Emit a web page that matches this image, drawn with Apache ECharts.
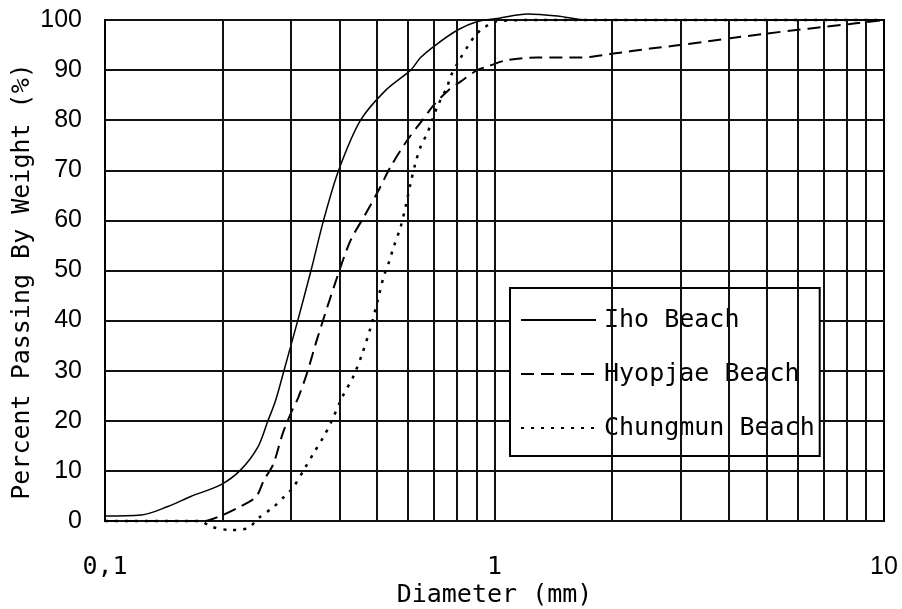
<!DOCTYPE html>
<html>
<head>
<meta charset="utf-8">
<script src="https://cdn.jsdelivr.net/npm/echarts@6/dist/echarts.min.js"></script>
<style>
html,body{margin:0;padding:0;background:#fff;}
#chart{width:902px;height:609px;}
</style>
</head>
<body>
<div id="chart"></div>
<script>
// ---- data ----
const seriesNames = ['Iho Beach', 'Hyopjae Beach', 'Chungmun Beach'];

const ihoBeach = [
  [0.096,1.0],[0.124,1.2],[0.145,2.9],[0.166,4.9],[0.198,7.2],[0.223,10.2],[0.247,14.8],
  [0.262,20],[0.274,24],[0.288,30],[0.3125,40],[0.338,50],[0.364,60],[0.398,70],
  [0.453,80],[0.526,86],[0.609,90],[0.646,92.5],[0.706,95],[0.804,98],[0.904,99.7],
  [1.018,100.3],[1.215,101.2],[1.45,100.8],[1.73,100],[3,100],[10,100]
];

const hyopjaeBeach = [
  [0.1,0],[0.18,0],[0.195,0.8],[0.219,2.6],[0.244,4.8],[0.256,8.2],[0.27,11.2],[0.286,17.5],
  [0.3,21.5],[0.314,24.8],[0.33,29.5],[0.351,36.5],[0.395,48.8],[0.427,56],[0.462,60.7],
  [0.504,66],[0.541,70.7],[0.597,76],[0.653,80],[0.698,83],[0.762,86],[0.818,87.7],
  [0.903,90],[0.957,90.7],[1.078,92],[1.287,92.5],[1.662,92.5],[2.019,93.3],[2.51,94.3],
  [3.0,95],[5.0,97.3],[8.18,99.2],[10,100]
];

const chungmunBeach = [
  [0.1,0],[0.175,0],[0.187,-1.1],[0.21,-1.8],[0.233,-1.4],[0.248,0.6],[0.271,2.8],[0.288,4.8],
  [0.3035,6.6],[0.324,10.2],[0.343,13.5],[0.364,16.8],[0.38,19.6],[0.407,24.8],[0.435,29],
  [0.458,33.5],[0.481,38.7],[0.504,44.7],[0.519,48.7],[0.535,51.5],[0.551,54.7],[0.574,58.7],
  [0.591,62.7],[0.609,67.4],[0.627,71.5],[0.646,74.7],[0.672,77.4],[0.692,80],[0.713,82.7],
  [0.756,86.7],[0.771,88.7],[0.818,92.4],[0.858,95],[0.894,97],[0.937,98.4],[1.006,99.7],
  [1.3,100],[3,100],[10,100]
];

// vertical grid line positions (log minor ticks)
const gridDiameters = [0.2,0.3,0.4,0.5,0.6,0.7,0.8,0.9,1,2,3,4,5,6,7,8,9];
// x tick labels
const xTickLabels = {'-1':'{m|0,1}','0':'{m|1}','1':'{a|10}'};

const chart = echarts.init(document.getElementById('chart'), null, {renderer:'canvas'});
const MONO = '"DejaVu Sans Mono", monospace';
const SANS = '"Liberation Sans", Arial, sans-serif';

const option = {
  animation: false,
  backgroundColor: '#fff',
  grid: {left:105, right:18, top:20, bottom:88, containLabel:false, outerBoundsMode:'none',
         show:true, borderColor:'#000', borderWidth:2, backgroundColor:'transparent'},
  xAxis: {
    type:'log', logBase:10, min:0.1, max:10,
    name:'Diameter (mm)', nameLocation:'middle', nameGap:62, nameMoveOverlap:false,
    nameTextStyle:{fontFamily:MONO, fontSize:25, color:'#000'},
    axisLine:{show:false}, axisTick:{show:false}, splitLine:{show:false},
    axisLabel:{
      margin:34, color:'#000', showMinLabel:true, showMaxLabel:true,
      formatter: v => xTickLabels[String(Math.round(Math.log10(v)))] || '',
      rich:{ m:{fontFamily:MONO, fontSize:25, color:'#000'}, a:{fontFamily:SANS, fontSize:25, color:'#000'} }
    }
  },
  yAxis: {
    type:'value', min:0, max:100, interval:10,
    name:'Percent Passing By Weight (%)', nameLocation:'middle', nameGap:70, nameMoveOverlap:false,
    nameTextStyle:{fontFamily:MONO, fontSize:25, color:'#000', padding:[0,22,0,0]},
    axisLine:{show:false}, axisTick:{show:false},
    splitLine:{show:true, lineStyle:{color:'#111', width:2}},
    axisLabel:{margin:23, fontFamily:SANS, fontSize:25, color:'#000'}
  },
  legend: {
    data: seriesNames,
    orient:'vertical', left:510, top:288,
    backgroundColor:'#fff', borderColor:'#000', borderWidth:2,
    padding:[17,5,13,10],
    itemWidth:75, itemHeight:14, itemGap:24,
    itemStyle:{opacity:0},
    textStyle:{fontFamily:MONO, fontSize:25, color:'#000', lineHeight:30, padding:[0,0,0,3]},
    selectedMode:false
  },
  series: [
    {
      name:'grid', type:'line', data:[], z:1, silent:true,
      markLine:{
        silent:true, symbol:['none','none'], label:{show:false},
        lineStyle:{color:'#111', width:2, type:'solid'},
        emphasis:{disabled:true},
        data: gridDiameters.map(d => ({xAxis:d}))
      }
    },
    {
      name:seriesNames[0], type:'line', data:ihoBeach, symbol:'none', smooth:0.3, clip:false, z:3,
      lineStyle:{color:'#000', width:1.5, type:'solid'}, itemStyle:{color:'#000'}
    },
    {
      name:seriesNames[1], type:'line', data:hyopjaeBeach, symbol:'none', smooth:0.3, clip:false, z:3,
      lineStyle:{color:'#000', width:2, type:[13,7]}, itemStyle:{color:'#000'}
    },
    {
      name:seriesNames[2], type:'line', data:chungmunBeach, symbol:'none', smooth:0.3, clip:false, z:3,
      lineStyle:{color:'#000', width:2.5, type:[3,7]}, itemStyle:{color:'#000'}
    }
  ]
};
chart.setOption(option);
</script>
</body>
</html>
